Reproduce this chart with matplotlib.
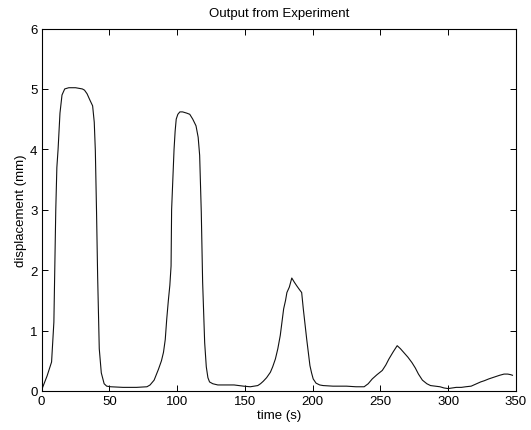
import matplotlib
matplotlib.use("Agg")
import matplotlib.pyplot as plt

# Measured displacement over time
time_s = [0, 1.2, 4, 7.3, 9, 10.4, 11.2, 12.1, 13.5, 15, 17, 20, 25, 30, 31.6, 33.5,
          35.5, 37.6, 38.8, 39.6, 40.5, 41.3, 42.5, 44, 46.1, 48, 51, 60, 70, 77.7,
          80, 83, 86.2, 88.4, 89.9, 91.2, 92.3, 93.5, 94.6, 95.5, 95.9, 96.8, 97.7,
          98.5, 99.3, 100.5, 102, 104, 107, 109.3, 111.5, 113.9, 115.5, 116.6, 117.2,
          117.8, 118.8, 120.3, 121.5, 122.7, 123.9, 126.3, 130, 135, 142, 149, 154,
          157, 159.5, 161.5, 163.5, 166, 168.8, 170.5, 172.5, 174.3, 176.1, 177.4,
          178.6, 180, 181, 182.8, 184.6, 186.5, 188.3, 190.2, 191.9, 193.1, 194.4,
          195.6, 197, 198, 199.2, 200.4, 202.5, 205.2, 207.7, 215, 225, 232, 238,
          241, 244, 247.5, 251.4, 254, 256.3, 259.5, 262.4, 264.8, 267.2, 270.3,
          273.3, 275.8, 278.1, 281, 284.3, 287, 290.3, 294, 297, 300, 303, 306,
          309.8, 313, 317, 321, 324, 326.7, 330, 334, 338, 341.3, 344, 346.2, 347.5]
displacement_mm = [0.02, 0.09, 0.25, 0.48, 1.14, 3.0, 3.7, 4.0, 4.6, 4.9, 5.0, 5.02,
                   5.02, 5.0, 4.98, 4.92, 4.82, 4.72, 4.45, 3.98, 2.95, 1.9, 0.7, 0.3,
                   0.12, 0.08, 0.07, 0.06, 0.06, 0.07, 0.1, 0.18, 0.36, 0.5, 0.64,
                   0.85, 1.19, 1.5, 1.75, 2.07, 3.0, 3.5, 4.0, 4.3, 4.5, 4.58, 4.62,
                   4.62, 4.6, 4.58, 4.5, 4.39, 4.2, 3.9, 3.4, 2.96, 1.8, 0.8, 0.4,
                   0.22, 0.15, 0.12, 0.1, 0.1, 0.1, 0.08, 0.07, 0.08, 0.09, 0.12,
                   0.16, 0.22, 0.31, 0.4, 0.53, 0.7, 0.92, 1.15, 1.36, 1.5, 1.63,
                   1.72, 1.87, 1.8, 1.74, 1.68, 1.63, 1.36, 1.1, 0.86, 0.6, 0.42,
                   0.3, 0.2, 0.13, 0.1, 0.09, 0.08, 0.08, 0.07, 0.07, 0.12, 0.2,
                   0.27, 0.34, 0.43, 0.53, 0.65, 0.75, 0.7, 0.64, 0.56, 0.47, 0.38,
                   0.28, 0.18, 0.12, 0.09, 0.08, 0.07, 0.05, 0.04, 0.05, 0.06, 0.06,
                   0.07, 0.08, 0.12, 0.15, 0.17, 0.2, 0.23, 0.26, 0.28, 0.28, 0.27,
                   0.26]

x_ticks = [0, 50, 100, 150, 200, 250, 300, 350]
y_ticks = [0, 1, 2, 3, 4, 5, 6]

plt.rcParams['font.family'] = ['Liberation Sans', 'DejaVu Sans']
plt.rcParams['font.size'] = 9.5

fig = plt.figure(figsize=(5.31, 4.31), dpi=100)
ax = fig.add_axes([0.0785, 0.0905, 0.893, 0.841])

ax.plot(time_s, displacement_mm, color='#111111', linewidth=0.8)

ax.set_xlim(0, 350)
ax.set_ylim(0, 6)
ax.set_xticks(x_ticks)
ax.set_yticks(y_ticks)
ax.tick_params(direction='in', top=True, right=True, length=4, width=0.7, pad=3)
for s in ax.spines.values():
    s.set_linewidth(0.8)

ax.set_title('Output from Experiment', fontsize=9.5, pad=9)
ax.set_xlabel('time (s)', labelpad=1)
ax.set_ylabel('displacement (mm)', labelpad=2)

fig.savefig('out.png', dpi=100)
